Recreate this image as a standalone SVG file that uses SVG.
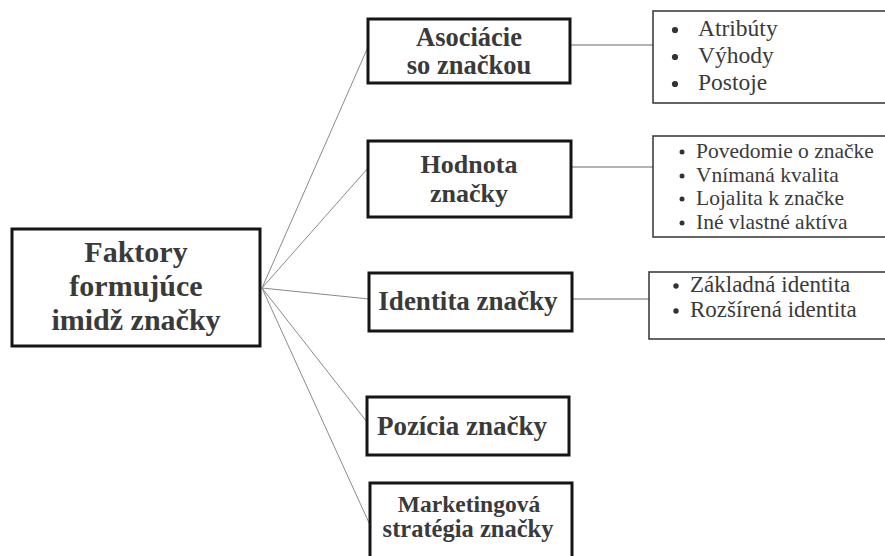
<svg xmlns="http://www.w3.org/2000/svg" width="885" height="556" viewBox="0 0 885 556">
<style>
  .main { fill: #fff; stroke: #151515; stroke-width: 3; }
  .side { fill: #fff; stroke: #333; stroke-width: 1.5; }
  .mt { font-family: "Liberation Serif", "Times New Roman", serif; font-weight: bold; fill: #3a3a3a; text-anchor: middle; }
  .st { font-family: "Liberation Serif", "Times New Roman", serif; fill: #3a3a3a; }
  .conn line { stroke: #8a8a8a; stroke-width: 1; }
  .conn line.h { stroke: #9a9a9a; stroke-width: 1.5; }
  .dot { fill: #333; }
</style>
<rect width="885" height="556" fill="#fff"/>
<g id="connectors" class="conn">
  <line x1="262" y1="288" x2="368" y2="47"/>
  <line x1="262" y1="288" x2="368" y2="168"/>
  <line x1="262" y1="288" x2="369" y2="299"/>
  <line x1="262" y1="288" x2="367" y2="422"/>
  <line x1="262" y1="288" x2="370" y2="525"/>
  <line class="h" x1="570" y1="45" x2="653" y2="45"/>
  <line class="h" x1="571" y1="167" x2="653" y2="167"/>
  <line class="h" x1="572" y1="299" x2="649" y2="299"/>
</g>
<g id="faktory">
  <rect class="main" x="12" y="229" width="248" height="117"/>
  <text class="mt" font-size="30" x="136" y="262">Faktory</text>
  <text class="mt" font-size="30" x="136" y="296">formujúce</text>
  <text class="mt" font-size="30" x="136" y="330">imidž značky</text>
</g>
<g id="asociacie">
  <rect class="main" x="368" y="19" width="202" height="64"/>
  <text class="mt" font-size="26.5" x="469" y="46">Asociácie</text>
  <text class="mt" font-size="26.5" x="469" y="74">so značkou</text>
</g>
<g id="hodnota">
  <rect class="main" x="368" y="141" width="203" height="76"/>
  <text class="mt" font-size="26" x="469" y="173">Hodnota</text>
  <text class="mt" font-size="26" x="469" y="202">značky</text>
</g>
<g id="identita">
  <rect class="main" x="369" y="273" width="203" height="58"/>
  <text class="mt" font-size="27" x="468" y="310">Identita značky</text>
</g>
<g id="pozicia">
  <rect class="main" x="367" y="397" width="202" height="58"/>
  <text class="mt" font-size="27" x="462" y="435">Pozícia značky</text>
</g>
<g id="marketing">
  <rect class="main" x="370" y="483" width="202" height="80"/>
  <text class="mt" font-size="23.5" x="469" y="512">Marketingová</text>
  <text class="mt" font-size="24.5" x="468" y="537">stratégia značky</text>
</g>
<g id="list-asociacie">
  <rect class="side" x="653" y="11" width="240" height="92"/>
  <circle class="dot" cx="675" cy="30" r="3.1"/>
  <circle class="dot" cx="675" cy="57" r="3.1"/>
  <circle class="dot" cx="675" cy="84" r="3.1"/>
  <text class="st" font-size="23.5" x="698" y="36">Atribúty</text>
  <text class="st" font-size="23.5" x="698" y="63">Výhody</text>
  <text class="st" font-size="23.5" x="698" y="90">Postoje</text>
</g>
<g id="list-hodnota">
  <rect class="side" x="653" y="136" width="240" height="101"/>
  <circle class="dot" cx="682" cy="152" r="2.5"/>
  <circle class="dot" cx="682" cy="176" r="2.5"/>
  <circle class="dot" cx="682" cy="199" r="2.5"/>
  <circle class="dot" cx="682" cy="223" r="2.5"/>
  <text class="st" font-size="21.5" x="696" y="158">Povedomie o značke</text>
  <text class="st" font-size="21.5" x="696" y="182">Vnímaná kvalita</text>
  <text class="st" font-size="21.5" x="696" y="205">Lojalita k značke</text>
  <text class="st" font-size="21.5" x="696" y="229">Iné vlastné aktíva</text>
</g>
<g id="list-identita">
  <rect class="side" x="649" y="272" width="244" height="67"/>
  <circle class="dot" cx="676" cy="286" r="2.7"/>
  <circle class="dot" cx="676" cy="311" r="2.7"/>
  <text class="st" font-size="23" x="690" y="292">Základná identita</text>
  <text class="st" font-size="23" x="690" y="317">Rozšírená identita</text>
</g>
</svg>
